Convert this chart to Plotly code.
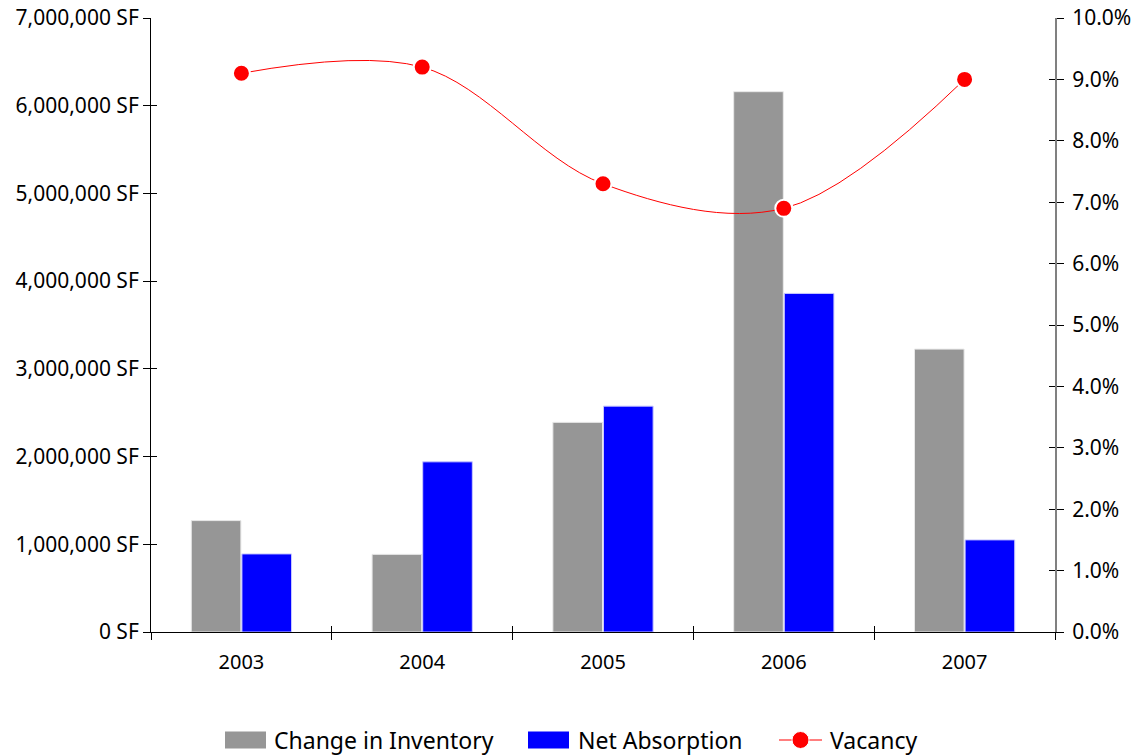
import plotly.graph_objects as go

years = ["2003", "2004", "2005", "2006", "2007"]
change_in_inventory = [1270000, 885000, 2390000, 6160000, 3225000]
net_absorption = [890000, 1940000, 2575000, 3860000, 1050000]
vacancy = [0.091, 0.092, 0.073, 0.069, 0.090]

FONT = "Noto Sans"
GREY = "#969696"
BLUE = "#0000ff"
RED = "#ff0000"
W, H = 1140, 756
PLOT_L, PLOT_R, PLOT_T, PLOT_B = 151, 1055, 18, 632
CAT_RANGE = [-0.5, len(years) - 0.5]

fig = go.Figure()
fig.add_trace(go.Bar(
    name="Change in Inventory", x=years, y=change_in_inventory,
    marker=dict(color=GREY, line=dict(color="#e8e8e8", width=1)),
))
fig.add_trace(go.Bar(
    name="Net Absorption", x=years, y=net_absorption,
    marker=dict(color=BLUE, line=dict(color="#c8c8ff", width=1)),
))
fig.add_trace(go.Scatter(
    name="Vacancy", x=years, y=vacancy, yaxis="y2", mode="lines+markers",
    line=dict(color=RED, width=1, shape="spline"),
    marker=dict(color=RED, size=17, line=dict(color="white", width=2)),
))

# Invisible helper traces so the overlay axes (inner tick halves) are drawn
fig.add_trace(go.Scatter(x=years, y=[0] * 5, xaxis="x2", yaxis="y3", mode="markers",
                         marker=dict(opacity=0), showlegend=False, hoverinfo="skip"))
fig.add_trace(go.Scatter(x=years, y=[0] * 5, yaxis="y4", mode="markers",
                         marker=dict(opacity=0), showlegend=False, hoverinfo="skip"))

fig.update_layout(
    width=W, height=H,
    margin=dict(l=PLOT_L, r=W - PLOT_R, t=PLOT_T, b=H - PLOT_B),
    paper_bgcolor="white", plot_bgcolor="white",
    font=dict(family=FONT, size=20, color="#000000"),
    barmode="group", bargap=0.44, bargroupgap=0.02,
    showlegend=False,
    xaxis=dict(
        type="category", range=CAT_RANGE, showgrid=False, showline=True,
        linecolor="#000000", linewidth=1,
        ticks="outside", tickson="boundaries", ticklen=7, tickcolor="#000000",
        tickfont=dict(size=20), ticklabelstandoff=12, automargin=False,
    ),
    xaxis2=dict(
        type="category", range=CAT_RANGE, overlaying="x", side="bottom",
        showgrid=False, showline=False,
        ticks="inside", tickson="boundaries", ticklen=6, tickcolor="#000000",
        showticklabels=False, automargin=False,
    ),
    yaxis=dict(
        range=[0, 7000000], dtick=1000000, tickformat=",", ticksuffix=" SF",
        showgrid=False, zeroline=False, showline=True, linecolor="#000000", linewidth=1,
        ticks="outside", ticklen=7, tickcolor="#000000",
        tickfont=dict(size=21), automargin=False,
    ),
    yaxis2=dict(
        range=[0, 0.10], dtick=0.01, tickformat=".1%", overlaying="y", side="right",
        showgrid=False, zeroline=False, showline=True, linecolor="#808080", linewidth=2,
        ticks="outside", ticklen=7, tickcolor="#000000",
        tickfont=dict(size=21), ticklabelstandoff=4, automargin=False,
    ),
    yaxis3=dict(
        range=[0, 7000000], dtick=1000000, overlaying="y", side="left",
        showgrid=False, zeroline=False, showline=False,
        ticks="inside", ticklen=6, tickcolor="#000000", showticklabels=False,
        automargin=False,
    ),
    yaxis4=dict(
        range=[0, 0.10], dtick=0.01, overlaying="y", side="right",
        showgrid=False, zeroline=False, showline=False,
        ticks="inside", ticklen=6, tickcolor="#000000", showticklabels=False,
        automargin=False,
    ),
)


def xp(x):
    return (x - PLOT_L) / (PLOT_R - PLOT_L)


def yp(y):
    return (PLOT_B - y) / (PLOT_B - PLOT_T)


# Legend row beneath the plot
legend_y = 740
legend_shapes = [
    dict(type="rect", xref="paper", yref="paper", x0=xp(225), x1=xp(266),
         y0=yp(legend_y + 8.5), y1=yp(legend_y - 8.5), fillcolor=GREY, line=dict(width=0)),
    dict(type="rect", xref="paper", yref="paper", x0=xp(528), x1=xp(569),
         y0=yp(legend_y + 8.5), y1=yp(legend_y - 8.5), fillcolor=BLUE, line=dict(width=0)),
    dict(type="line", xref="paper", yref="paper", x0=xp(779), x1=xp(822),
         y0=yp(legend_y), y1=yp(legend_y), line=dict(color=RED, width=1)),
    dict(type="circle", xref="paper", yref="paper", x0=xp(792), x1=xp(809),
         y0=yp(legend_y + 8.5), y1=yp(legend_y - 8.5), fillcolor=RED,
         line=dict(color="white", width=1)),
]
legend_labels = [
    ("Change in Inventory", 272),
    ("Net Absorption", 576),
    ("Vacancy", 828),
]
annotations = [
    dict(text=t, xref="paper", yref="paper", x=xp(x0), y=yp(legend_y),
         xanchor="left", yanchor="middle", showarrow=False,
         font=dict(family=FONT, size=23, color="#000000"))
    for t, x0 in legend_labels
]
fig.update_layout(shapes=legend_shapes, annotations=annotations)

fig.write_html("out.html")
